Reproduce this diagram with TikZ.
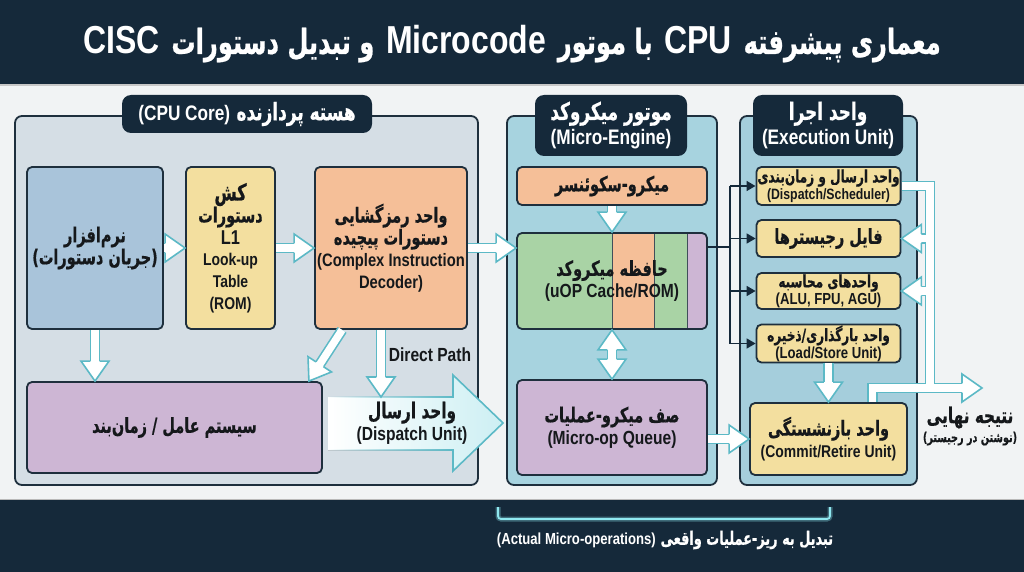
\documentclass[tikz,border=0pt]{standalone}
\usepackage{fontspec}
\usetikzlibrary{calc,arrows.meta,fadings}
\TeXXeTstate=1
\newfontfamily\fa[Script=Arabic, Scale=1.15, FakeStretch=0.7, BoldFeatures={FakeBold=0.6}]{DejaVu Sans}
\newfontfamily\la[FakeStretch=0.82]{Liberation Sans}
\newcommand\AR[1]{{\fa\bfseries\beginR #1\endR}}
\newcommand\LA[1]{{\la\bfseries #1}}
\newcommand\fsz[2]{\fontsize{#1}{#2}\selectfont}
\definecolor{navy}{HTML}{15293A}
\definecolor{bgc}{HTML}{F1F3F4}
\definecolor{edge}{HTML}{1E2F3D}
\definecolor{ink}{HTML}{15181B}
\definecolor{leftp}{HTML}{D5DEE5}
\definecolor{midp}{HTML}{A7D3DF}
\definecolor{rightp}{HTML}{A5CEDC}
\definecolor{bluebox}{HTML}{A9C4DA}
\definecolor{yel}{HTML}{F3DF9F}
\definecolor{ora}{HTML}{F5BF98}
\definecolor{pur}{HTML}{CDB6D4}
\definecolor{grn}{HTML}{A9D3A5}
\definecolor{cy}{HTML}{5CB9C6}
\definecolor{dispc}{HTML}{CDEFF3}
\definecolor{glow}{HTML}{8FE8F0}
\tikzfading[name=fadeleft, left color=transparent!100, right color=transparent!0]
\newcommand\hdl{20pt}
\newcommand\hsw{4.55pt}
\newcommand\hhw{14pt}
\newcommand\hhead[2]{%
  \coordinate (hB) at ($(#2)!\hdl!(#1)$);
  \filldraw[hheadst] ($(hB)!\hsw!90:(#2)$) -- ($(hB)!\hhw!90:(#2)$) -- (#2) -- ($(hB)!\hhw!-90:(#2)$) -- ($(hB)!\hsw!-90:(#2)$);}
\newcommand\harrow[2]{%
  \draw[hshaft, shorten >=\hdl-1pt] (#1) -- (#2);
  \hhead{#1}{#2}}
\begin{document}
\begin{tikzpicture}[x=1pt,y=-1pt,
  box/.style={draw=edge, line width=1.8pt, rounded corners=5pt, align=center, inner sep=1pt, text=ink, font=\fsz{18}{22}},
  small/.style={font=\fsz{15}{17}},
  panel/.style={draw=edge, line width=1.8pt, rounded corners=7pt, inner sep=0pt},
  tag/.style={fill=navy, rounded corners=9pt, text=white, align=center, inner sep=0pt, font=\fsz{21}{25}},
  hshaft/.style={draw=cy, double=white, double distance=7.5pt, line width=1.6pt},
  hheadst/.style={fill=white, draw=cy, line width=1.6pt, line join=miter},
  hout/.style={draw=cy, line width=10.7pt},
  hin/.style={draw=white, line width=7.5pt},
  tree/.style={draw=navy, line width=1.6pt, -{Triangle[length=9pt,width=10pt]}},
]
\useasboundingbox (0,0) rectangle (1024,572);
% backgrounds
\fill[bgc] (0,0) rectangle (1024,572);
\fill[navy] (0,0) rectangle (1024,84);
\fill[black!22] (0,84) rectangle (1024,86);
\fill[navy] (0,499) rectangle (1024,572);
\draw[gray!55, line width=1pt] (0,499) -- (1024,499);
% title
\node[text=white, font=\fsz{39}{42}] (title) at (512,44)
  {\LA{CISC} {\fsz{30}{34}\AR{و تبدیل دستورات}} \LA{Microcode} {\fsz{30}{34}\AR{با موتور}} \LA{CPU} {\fsz{30}{34}\AR{معماری پیشرفته}}};
% panels
\node[panel, fill=leftp, minimum width=463, minimum height=369] (core) at (246.5,300.5) {};
\node[panel, fill=midp, minimum width=210, minimum height=369] (eng) at (612,300.5) {};
\node[panel, fill=rightp, minimum width=177, minimum height=369] (exe) at (828.5,300.5) {};
\node[tag, minimum width=250, minimum height=38] (coretag) at (247,114) {\LA{(CPU Core)} \AR{هسته پردازنده}};
\node[tag, minimum width=152, minimum height=61] (engtag) at (611,125.5) {\AR{موتور میکروکد}\\\LA{(Micro-Engine)}};
\node[tag, minimum width=150, minimum height=61] (exetag) at (828,125.5) {\AR{واحد اجرا}\\\LA{(Execution Unit)}};
% CPU core boxes
\node[box, fill=bluebox, minimum width=136, minimum height=162] (soft) at (95,248) {\AR{نرم‌افزار}\\\AR{(جریان دستورات)}};
\node[box, fill=yel, minimum width=89, minimum height=162] (l1) at (230.5,248)
  {{\fsz{20}{22}\AR{کش}}\\\AR{دستورات}\\{\fsz{20}{22}\LA{L1}}\\[-1pt]{\fsz{17}{18}\LA{Look-up}}\\{\fsz{17}{18}\LA{Table}}\\{\fsz{17}{18}\LA{(ROM)}}};
\node[box, fill=ora, minimum width=152, minimum height=162] (dec) at (391,248)
  {\AR{واحد رمزگشایی}\\\AR{دستورات پیچیده}\\\LA{(Complex Instruction}\\\LA{Decoder)}};
\node[box, fill=pur, minimum width=295, minimum height=91] (os) at (174.5,427.5) {\AR{سیستم عامل / زمان‌بند}};
% dispatch big arrow
\fill[left color=white, right color=dispc] (328,397) -- (453,397) -- (453,375) -- (503,423) -- (453,471) -- (453,450) -- (328,450) -- cycle;
\draw[cy, line width=1.6pt, path fading=fadeleft] (328,397) -- (454,397) (328,450) -- (454,450);
\draw[cy, line width=1.6pt, line join=miter] (453,397) -- (453,375) -- (503,423) -- (453,471) -- (453,450);
\node[align=center, text=ink, font=\fsz{19}{22}] (disp) at (412,423) {\AR{واحد ارسال}\\\LA{(Dispatch Unit)}};
\coordinate (dpt) at (381,397);
\node[text=ink, font=\fsz{19}{22}] (dplabel) at (430,355) {\LA{Direct Path}};
% micro engine
\begin{scope}
\clip[rounded corners=5pt] (517,233) rectangle (707,329);
\fill[grn] (517,233) rectangle (612,329);
\fill[ora] (612,233) rectangle (654,329);
\fill[grn] (654,233) rectangle (687,329);
\fill[pur] (687,233) rectangle (707,329);
\end{scope}
\draw[edge!85, line width=0.9pt] (612,233) -- (612,329) (654,233) -- (654,329) (687,233) -- (687,329);
\node[box, fill=ora, minimum width=190, minimum height=38] (seq) at (612,186) {\AR{میکرو-سکوئنسر}};
\node[box, minimum width=190, minimum height=96] (cache) at (612,281) {\AR{حافظه میکروکد}\\{\fsz{19}{22}\LA{(uOP Cache/ROM)}}};
\node[box, fill=pur, minimum width=190, minimum height=95] (queue) at (612,427.5) {\AR{صف میکرو-عملیات}\\{\fsz{19}{22}\LA{(Micro-op Queue)}}};
% execution unit
\node[box, small, fill=yel, minimum width=144, minimum height=38] (sched) at (828.5,186) {\AR{واحد ارسال و زمان‌بندی}\\{\fsz{15}{16}\LA{(Dispatch/Scheduler)}}};
\node[box, fill=yel, minimum width=144, minimum height=37] (reg) at (828.5,238.5) {\AR{فایل رجیسترها}};
\node[box, small, fill=yel, minimum width=144, minimum height=36] (alu) at (828.5,291) {\AR{واحدهای محاسبه}\\{\fsz{16}{16}\LA{(ALU, FPU, AGU)}}};
\node[box, small, fill=yel, minimum width=144, minimum height=37] (ls) at (828.5,343.5) {\AR{واحد بارگذاری/ذخیره}\\{\fsz{16}{16}\LA{(Load/Store Unit)}}};
\node[box, fill=yel, minimum width=157, minimum height=72] (commit) at (828.5,439) {\AR{واحد بازنشستگی}\\{\fsz{17}{20}\LA{(Commit/Retire Unit)}}};
\node[align=center, text=ink, font=\fsz{19}{21}] (res) at (970,426) {\AR{نتیجه نهایی}\\[-2pt]{\fsz{12}{15}\AR{(نوشتن در رجیستر)}}};
% hollow connectors
\harrow{soft.east}{l1.west}
\harrow{l1.east}{dec.west}
\harrow{dec.east}{dec.east -| cache.west}
\harrow{soft.south}{soft.south |- os.north}
\coordinate (dg1) at ($(dec.south west)+(28,0)$);
\coordinate (dg2) at ($(os.north east)+(-14,0)$);
\harrow{dg1}{dg2}
\harrow{dec.south -| dpt}{dpt}
\harrow{seq.south}{cache.north}
\draw[hshaft, shorten >=\hdl-1pt, shorten <=\hdl-1pt] (cache.south) -- (queue.north);
\hhead{cache.south}{queue.north}
\hhead{queue.north}{cache.south}
\harrow{queue.east |- commit.west}{commit.west}
\harrow{ls.south}{ls.south |- commit.north}
% tree from cache
\coordinate (tr) at (730,247);
\draw[navy, line width=1.6pt] (cache.east |- tr) -- (tr);
\draw[navy, line width=1.6pt] (tr |- sched.west) -- (tr |- ls.west);
\draw[tree] (tr |- sched.west) -- (sched.west);
\draw[tree] (tr |- reg.west) -- (reg.west);
\draw[tree] (tr |- alu.west) -- (alu.west);
\draw[tree] (tr |- ls.west) -- (ls.west);
% result channels
\coordinate (ch) at (930,0);
\coordinate (fr) at (982,388);
\coordinate (cr) at ($(commit.north)+(44,0)$);
\foreach \st in {hout,hin}{
  \draw[\st] (sched.east) -- (sched.east -| ch) -- (ch |- fr);
  \draw[\st, shorten >=\hdl-1pt] (cr) |- (fr);
  \draw[\st, shorten >=\hdl-1pt] (ch |- reg.east) -- (reg.east);
  \draw[\st, shorten >=\hdl-1pt] (ch |- alu.east) -- (alu.east);
}
\hhead{ch |- reg.east}{reg.east}
\hhead{ch |- alu.east}{alu.east}
\hhead{ch |- fr}{fr}
% bottom bracket and caption
\draw[glow, opacity=0.35, line width=5pt, rounded corners=3pt] (498,507) -- (498,519) -- (830,519) -- (830,507);
\draw[glow, line width=1.8pt, rounded corners=3pt] (498,507) -- (498,519) -- (830,519) -- (830,507);
\node[text=white, font=\fsz{16}{20}] (caption) at (665,540) {\LA{(Actual Micro-operations)} \AR{تبدیل به ریز-عملیات واقعی}};
\end{tikzpicture}
\end{document}
